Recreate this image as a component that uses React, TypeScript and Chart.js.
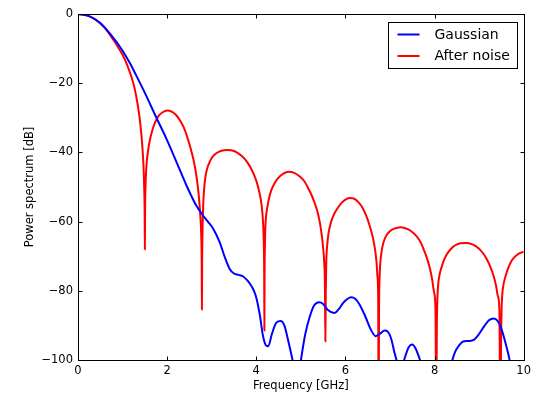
import React, { useEffect, useRef } from 'react';
import { Chart, registerables } from 'chart.js';

Chart.register(...registerables);

// ---- data ----
const gaussFreq = [
  0, 0.25, 0.5, 0.75, 1.0, 1.16, 1.3, 1.5, 1.76, 2.0, 2.28, 2.45, 2.54, 2.65, 2.78, 2.9, 3.03, 3.18, 3.3, 3.4,
  3.5, 3.6, 3.7, 3.8, 3.9, 3.99, 4.08, 4.15, 4.22, 4.27, 4.35, 4.45, 4.55, 4.63, 4.7, 4.78, 4.84, 4.92, 4.97,
  5.02, 5.1, 5.2, 5.3, 5.41, 5.5, 5.6, 5.75, 5.85, 5.95, 6.05, 6.13, 6.22, 6.32, 6.45, 6.57, 6.68, 6.78, 6.88,
  6.95, 7.03, 7.1, 7.17, 7.25, 7.33, 7.42, 7.5, 7.58, 7.66, 7.72, 7.85, 8.25, 8.38, 8.45, 8.55, 8.66, 8.78,
  8.88, 8.98, 9.1, 9.22, 9.33, 9.42, 9.5, 9.58, 9.65, 9.7, 9.8,
];
const gaussDb = [
  0, -0.6, -2.6, -6.2, -10.6, -14.1, -17.6, -22.8, -30.0, -36.5, -44.9, -50, -52.5, -55.3, -57.8, -59.8, -62,
  -66, -70.5, -73.6, -75, -75.4, -75.8, -77, -78.8, -81.5, -87, -93, -95.8, -96, -92.5, -89.2, -88.7, -90,
  -93.5, -98, -101.5, -106, -103, -98.5, -92.5, -87.5, -84.2, -83.3, -83.8, -85.5, -86.4, -85.3, -83.5,
  -82.3, -81.9, -82.3, -84, -87.5, -91.2, -93.1, -92.4, -91.5, -91.8, -94, -97.8, -101, -103, -99.5, -96.3,
  -95.5, -96.8, -99.5, -102, -108, -108, -101, -98, -95.8, -94.6, -94.5, -94.2, -92.8, -90.5, -88.5, -88,
  -88.8, -91, -94.5, -98, -101, -107,
];

const noiseFreq = [
  0, 0.2, 0.4, 0.6, 0.8, 0.9, 1.0, 1.1, 1.2, 1.27, 1.33, 1.38, 1.42, 1.45, 1.47, 1.485, 1.495, 1.5,
  1.505, 1.515, 1.53, 1.55, 1.58, 1.62, 1.67, 1.73, 1.8, 1.9, 2.0, 2.1, 2.2, 2.3, 2.38, 2.45, 2.52, 2.58,
  2.63, 2.67, 2.71, 2.74, 2.765, 2.775, 2.78,
  2.785, 2.795, 2.81, 2.83, 2.86, 2.9, 2.96, 3.03, 3.12, 3.22, 3.36, 3.5, 3.62, 3.72, 3.8, 3.88, 3.95, 4.01,
  4.06, 4.1, 4.13, 4.155, 4.17, 4.178, 4.182,
  4.186, 4.195, 4.21, 4.24, 4.28, 4.33, 4.41, 4.5, 4.6, 4.73, 4.85, 4.97, 5.07, 5.16, 5.25, 5.32, 5.38, 5.43,
  5.47, 5.5, 5.525, 5.54, 5.55,
  5.56, 5.57, 5.59, 5.62, 5.67, 5.74, 5.82, 5.92, 6.02, 6.1, 6.2, 6.3, 6.38, 6.45, 6.52, 6.58, 6.63, 6.67,
  6.7, 6.72, 6.735, 6.745,
  6.755, 6.765, 6.78, 6.81, 6.85, 6.91, 6.98, 7.08, 7.24, 7.4, 7.52, 7.62, 7.7, 7.77, 7.84, 7.9, 7.95, 7.99,
  8.02, 8.04,
  8.05, 8.06, 8.08, 8.11, 8.15, 8.2, 8.27, 8.36, 8.5, 8.69, 8.85, 8.98, 9.08, 9.17, 9.25, 9.32, 9.38, 9.42,
  9.455, 9.475,
  9.495, 9.505, 9.52, 9.55, 9.6, 9.65, 9.72, 9.8, 9.9, 10.0,
];
const noiseDb = [
  0, -0.4, -1.7, -4.0, -7.6, -9.6, -11.8, -14.6, -18.2, -21.5, -25.5, -29.8, -34.5, -39.5, -44, -50, -57, -68,
  -57, -50, -45, -41.8, -38.8, -36, -33.5, -31.3, -29.6, -28.4, -27.9, -28.2, -29.2, -31, -33, -35.5, -38.5, -41.5,
  -44.7, -48, -52.5, -57.5, -64, -72, -85.4,
  -72, -62, -55, -50.5, -47, -44.6, -42.6, -41.1, -40.1, -39.5, -39.3, -39.6, -40.5, -41.6, -42.9, -44.6, -46.5, -48.6,
  -51, -53.5, -56.5, -61, -67, -76, -91.5,
  -76, -66, -60, -56.5, -53.6, -51.2, -48.9, -47.3, -46.2, -45.6, -45.9, -46.9, -48.2, -50.2, -52.6, -55, -57.5, -60.5,
  -64, -67.5, -72, -78, -94.6,
  -80, -72, -67, -63.5, -60.5, -58, -56.2, -54.5, -53.5, -53.2, -53.4, -54.5, -55.9, -57.8, -60.2, -62.8, -65.5, -68.5,
  -72, -76, -82, -120,
  -85, -77, -72.5, -68.8, -66.2, -64.2, -63, -62.1, -61.6, -62.2, -63.2, -64.6, -66.3, -68.5, -71, -73.8, -77, -80.5,
  -85, -120,
  -92, -84, -78.5, -75.5, -73.5, -71.5, -69.6, -68, -66.6, -66.2, -66.6, -67.6, -69, -70.8, -73, -75.5, -78.5, -81.5,
  -85.5, -120,
  -92, -85, -81, -78, -75.5, -73.5, -71.5, -70.2, -69.2, -68.7,
];

const xTickValues = [0, 2, 4, 6, 8, 10];
const yTickValues = [-100, -80, -60, -40, -20, 0];
const seriesNames = ['Gaussian', 'After noise'];
const seriesColors = ['#0000ff', '#ff0000'];
const xTitle = 'Frequency [GHz]';
const yTitle = 'Power spectrum [dB]';

const FONT = '"DejaVu Sans", Verdana, sans-serif';

const framePlugin = {
  id: 'mplFrame',
  afterDraw(chart: any) {
    const { ctx, chartArea: a, scales } = chart;
    const L = Math.round(a.left) + 0.5;
    const R = Math.round(a.right) + 0.5;
    const T = Math.round(a.top) + 0.5;
    const B = Math.round(a.bottom) + 0.5;
    ctx.save();
    ctx.strokeStyle = '#000';
    ctx.lineWidth = 1;
    ctx.strokeRect(L, T, R - L, B - T);
    ctx.beginPath();
    xTickValues.forEach((v) => {
      const px = Math.round(scales.x.getPixelForValue(v)) + 0.5;
      ctx.moveTo(px, B); ctx.lineTo(px, B - 4);
      ctx.moveTo(px, T); ctx.lineTo(px, T + 4);
    });
    yTickValues.forEach((v) => {
      const py = Math.round(scales.y.getPixelForValue(v)) + 0.5;
      ctx.moveTo(L, py); ctx.lineTo(L + 4, py);
      ctx.moveTo(R, py); ctx.lineTo(R - 4, py);
    });
    ctx.stroke();

    // legend
    const bw = 129, bh = 46;
    const bx = Math.round(a.right - 136) + 0.5;
    const by = Math.round(a.top + 8) + 0.5;
    ctx.fillStyle = '#fff';
    ctx.fillRect(bx, by, bw, bh);
    ctx.strokeStyle = '#000';
    ctx.strokeRect(bx, by, bw, bh);
    ctx.font = `14px ${FONT}`;
    ctx.textBaseline = 'middle';
    ctx.textAlign = 'left';
    seriesNames.forEach((name, i) => {
      const y = by + 12 + i * 21.5;
      ctx.strokeStyle = seriesColors[i];
      ctx.lineWidth = 2;
      ctx.beginPath();
      ctx.moveTo(bx + 9, y);
      ctx.lineTo(bx + 31, y);
      ctx.stroke();
      ctx.fillStyle = '#000';
      ctx.fillText(name, bx + 46, y + 0.5);
    });
    ctx.restore();
  },
};

const fmt = (v: number) => (v < 0 ? '\u2212' + Math.abs(v) : String(v));

export default function App() {
  const ref = useRef<HTMLCanvasElement>(null);
  useEffect(() => {
    const toPts = (xs: number[], ys: number[]) => xs.map((x, i) => ({ x, y: ys[i] }));
    const chart = new Chart(ref.current as HTMLCanvasElement, {
      type: 'line',
      data: {
        datasets: [
          {
            label: seriesNames[0],
            data: toPts(gaussFreq, gaussDb),
            borderColor: seriesColors[0],
            borderWidth: 2,
            pointRadius: 0,
            cubicInterpolationMode: 'monotone',
            fill: false,
          },
          {
            label: seriesNames[1],
            data: toPts(noiseFreq, noiseDb),
            borderColor: seriesColors[1],
            borderWidth: 2,
            pointRadius: 0,
            cubicInterpolationMode: 'monotone',
            fill: false,
          },
        ],
      },
      options: {
        animation: false,
        responsive: false,
        devicePixelRatio: 1,
        layout: { padding: { top: 14, right: 10, left: 0, bottom: 0 } },
        plugins: { legend: { display: false }, tooltip: { enabled: false } },
        scales: {
          x: {
            type: 'linear',
            min: 0,
            max: 10,
            grid: { display: false, drawTicks: false },
            border: { display: false },
            afterBuildTicks: (s: any) => { s.ticks = xTickValues.map((v) => ({ value: v })); },
            afterFit: (s: any) => { s.height = 36; },
            ticks: {
              font: { family: FONT, size: 11.5 },
              color: '#000',
              padding: 4,
              maxRotation: 0,
              autoSkip: false,
              callback: (v: any) => fmt(Number(v)),
            },
            title: {
              display: true,
              text: xTitle,
              font: { family: FONT, size: 11.5 },
              color: '#000',
              padding: { top: 0, bottom: 3 },
            },
          },
          y: {
            type: 'linear',
            min: -100,
            max: 0,
            grid: { display: false, drawTicks: false },
            border: { display: false },
            afterBuildTicks: (s: any) => { s.ticks = yTickValues.map((v) => ({ value: v })); },
            afterFit: (s: any) => { s.width = 78; },
            ticks: {
              font: { family: FONT, size: 11.5 },
              color: '#000',
              padding: 5,
              autoSkip: false,
              callback: (v: any) => fmt(Number(v)),
            },
            title: {
              display: true,
              text: yTitle,
              font: { family: FONT, size: 11.5 },
              color: '#000',
              padding: { top: 23, bottom: 0 },
            },
          },
        },
      },
      plugins: [framePlugin],
    } as any);
    return () => chart.destroy();
  }, []);
  return (
    <div style={{ position: 'absolute', left: 0, top: 0, width: 535, height: 396, background: '#fff' }}>
      <canvas ref={ref} width={535} height={396} style={{ display: 'block' }} />
    </div>
  );
}
